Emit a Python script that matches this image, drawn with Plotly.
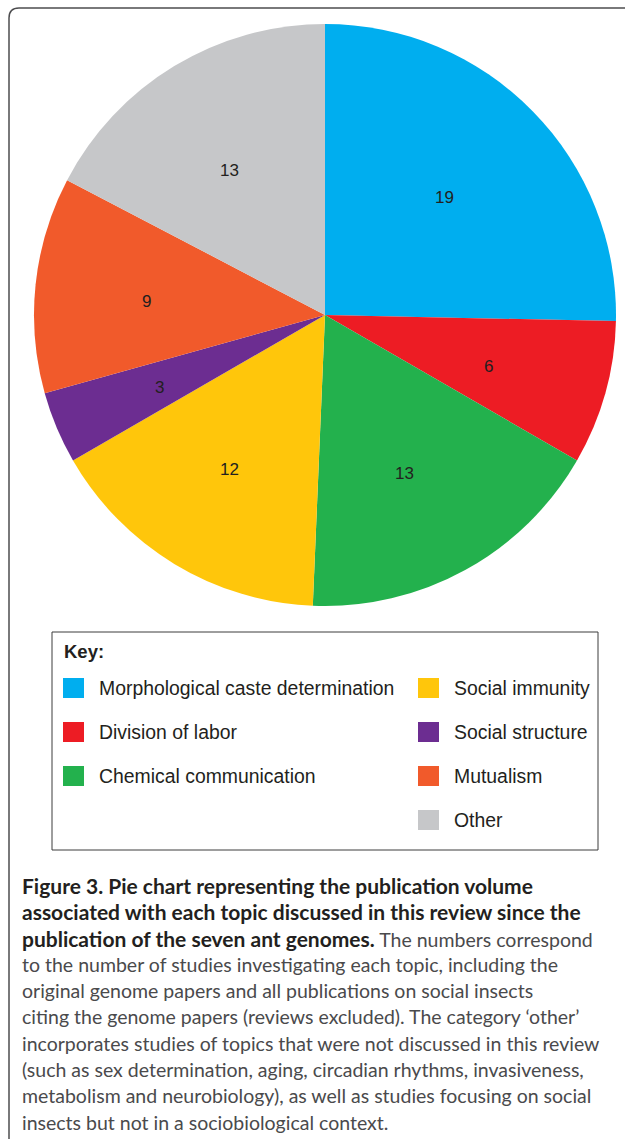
import math
import plotly.graph_objects as go

# ---- data ----
labels = ["Morphological caste determination", "Division of labor", "Chemical communication",
          "Social immunity", "Social structure", "Mutualism", "Other"]
values = [19, 6, 13, 12, 3, 9, 13]
colors = ["#00AEEF", "#ED1C24", "#23B14D", "#FFC60B", "#6C2D91", "#F15A2B", "#C6C7C9"]

B = "<span style='font-size:21px;color:#231F20'><b>{}</b></span>"
caption_lines = [
    B.format("Figure 3. Pie chart representing the publication volume"),
    B.format("associated with each topic discussed in this review since the"),
    B.format("publication of the seven ant genomes.") + " The numbers correspond",
    "to the number of studies investigating each topic, including the",
    "original genome papers and all publications on social insects",
    "citing the genome papers (reviews excluded). The category \u2018other\u2019",
    "incorporates studies of topics that were not discussed in this review",
    "(such as sex determination, aging, circadian rhythms, invasiveness,",
    "metabolism and neurobiology), as well as studies focusing on social",
    "insects but not in a sociobiological context.",
]

W, H = 626, 1139
def px(x): return x / W
def py(y): return 1 - y / H

# pie geometry (layout, in page pixels)
CX, CY, R = 325, 315, 291
pie_dom = dict(x=[px(CX - R), px(CX + R)], y=[py(CY + R), py(CY - R)])
LABEL_R = 0.6
LABEL_DX, LABEL_DY = -5, 5

fig = go.Figure()
fig.add_trace(go.Pie(
    labels=labels, values=values, sort=False, direction="clockwise", rotation=0,
    marker=dict(colors=colors, line=dict(width=0)), textinfo="none",
    hoverinfo="label+value", domain=pie_dom, showlegend=False,
))

shapes = []
annotations = []

# slice value labels, placed at mid-angle of each slice
total = sum(values)
cum = 0
for v in values:
    ang = math.radians((cum + v / 2) / total * 360)
    cum += v
    lx = CX + LABEL_R * R * math.sin(ang) + LABEL_DX
    ly = CY - LABEL_R * R * math.cos(ang) + LABEL_DY
    annotations.append(dict(text=str(v), x=px(lx), y=py(ly), xref="paper", yref="paper",
                            xanchor="center", yanchor="middle", showarrow=False,
                            font=dict(family="Liberation Sans, Arial", size=17, color="#231F20")))

# outer frame (top + left edges with rounded corner)
shapes.append(dict(type="path", xref="paper", yref="paper",
                   path=f"M {px(9)},{py(1139)} L {px(9)},{py(18)} Q {px(9)},{py(8)} {px(19)},{py(8)} L {px(625)},{py(8)}",
                   line=dict(color="#4D4D4F", width=1.5)))

# key box
shapes.append(dict(type="rect", xref="paper", yref="paper",
                   x0=px(52), x1=px(598), y0=py(850), y1=py(632),
                   line=dict(color="#3C3C3C", width=1)))
annotations.append(dict(text="<b>Key:</b>", x=px(62), y=py(651), xref="paper", yref="paper",
                        xanchor="left", yanchor="middle", showarrow=False,
                        font=dict(family="Liberation Sans, Arial", size=18.5, color="#231F20")))
row_y = [688, 732, 776, 820]
for i, (lab, col) in enumerate(zip(labels, colors)):
    if i < 3:
        colx, r = 63, i
    else:
        colx, r = 418, i - 3
    yc = row_y[r]
    shapes.append(dict(type="rect", xref="paper", yref="paper",
                       x0=px(colx), x1=px(colx + 21), y0=py(yc + 10), y1=py(yc - 10),
                       fillcolor=col, line=dict(width=0)))
    annotations.append(dict(text=lab, x=px(colx + 34), y=py(yc), xref="paper", yref="paper",
                            xanchor="left", yanchor="middle", showarrow=False,
                            font=dict(family="Liberation Sans, Arial", size=19.4, color="#231F20")))

# caption
cap_y = [885, 911.5, 938, 964, 990, 1016.5, 1043, 1069, 1095.5, 1122]
for line, yc in zip(caption_lines, cap_y):
    annotations.append(dict(text=line, x=px(20), y=py(yc), xref="paper", yref="paper",
                            xanchor="left", yanchor="middle", showarrow=False,
                            font=dict(family="Lato", size=19.5, color="#4A4A4C")))

fig.update_layout(
    width=W, height=H, margin=dict(l=0, r=0, t=0, b=0),
    paper_bgcolor="white", plot_bgcolor="white",
    shapes=shapes, annotations=annotations, showlegend=False,
)
fig.write_html("out.html", config={"displayModeBar": False},
               post_script="document.body.style.margin='0';document.documentElement.style.overflow='hidden';document.body.style.overflow='hidden';")
